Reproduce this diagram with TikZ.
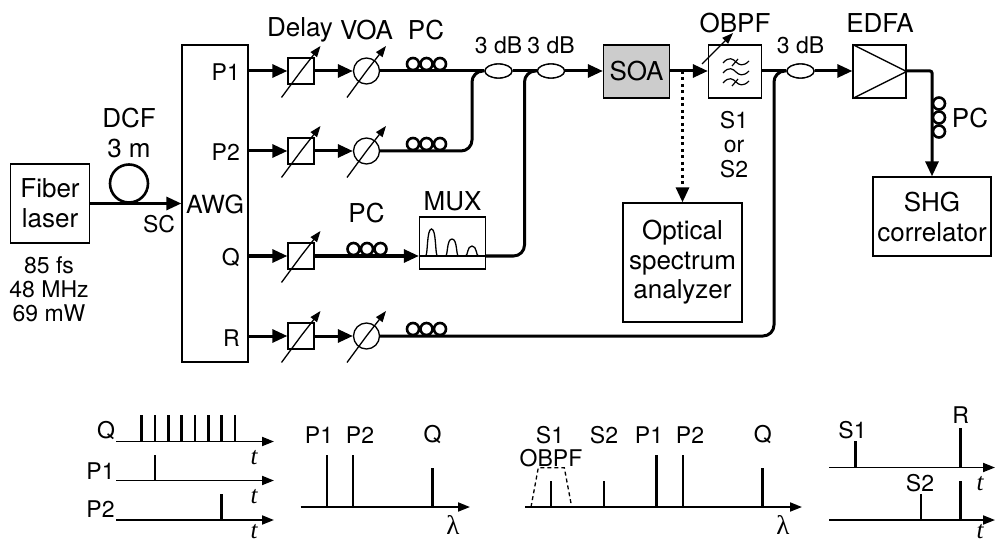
\documentclass[tikz,border=0pt]{standalone}
\usepackage{fontspec}
\setmainfont{TeX Gyre Heros}
\newfontfamily\serifgreek{Liberation Serif}
\usetikzlibrary{arrows.meta,shapes.geometric}
\tikzset{
  fiber/.style={line width=3pt},
  bigtip/.style={-{Triangle[length=15pt,width=13pt]}},
  fiberarrow/.style={fiber,bigtip},
  smalltip/.style={-{Triangle[length=11pt,width=8pt]}},
  thinline/.style={line width=1.3pt},
  tunable/.style={thinline,smalltip},
  boxnode/.style={draw,line width=1.3pt,inner sep=0pt,align=center},
  delaybox/.style={boxnode,minimum width=26pt,minimum height=26pt},
  voa/.style={draw,circle,line width=1.3pt,inner sep=0pt,minimum size=26pt},
  coupler/.style={draw,ellipse,line width=1.3pt,fill=white,inner sep=0pt,minimum width=27pt,minimum height=14pt},
  coil/.style={draw,circle,line width=2.6pt,inner sep=0pt,minimum size=12pt},
  lab/.style={inner sep=0pt,font=\fontsize{26}{26}\selectfont,align=center},
  mid/.style={inner sep=0pt,font=\fontsize{23}{23}\selectfont,align=center},
  axis/.style={line width=1.8pt,-{Triangle[length=12pt,width=9pt]}},
  pulse/.style={line width=2.9pt},
  tlab/.style={inner sep=0pt,font=\serifgreek\itshape\fontsize{25}{25}\selectfont},
  llab/.style={inner sep=0pt,font=\serifgreek\fontsize{27}{27}\selectfont},
}
\begin{document}
\begin{tikzpicture}[x=1pt,y=-1pt]
\useasboundingbox (0,0) rectangle (995,545);
% boxes
\node[boxnode,minimum width=79.5pt,minimum height=79pt,font=\fontsize{26}{30}\selectfont] (laser) at (50,203.5) {Fiber\\laser};
\node[boxnode,minimum width=66pt,minimum height=317pt] (awg) at (215,203.5) {};
\node[draw,circle,line width=2.6pt,inner sep=0pt,minimum size=38pt] (dcf) at (129,183.5) {};
\coordinate (awgin) at (awg.west|-laser);
\draw[fiberarrow] (laser.east) -- (awgin);
\node[lab] (dcfl) at (129,118) {DCF};
\node[lab] (dcfm) at (129,148) {3 m};
\node[mid] (sc) at (159,224) {SC};
\node[lab,font=\fontsize{25}{25}\selectfont] (awgl) at (215,204) {AWG};
\node[mid,font=\fontsize{23}{24}\selectfont] (specs) at (49,289.5) {85 fs\\48 MHz\\69 mW};
\node[mid,anchor=east] (lp1) at (240,72) {P1};
\node[mid,anchor=east] (lp2) at (240,152) {P2};
\node[mid,anchor=east] (lq) at (240,258) {Q};
\node[mid,anchor=east] (lr) at (240,338) {R};
\node[lab] (ldelay) at (300,30) {Delay};
\node[lab] (lvoa) at (366.5,30) {VOA};
\node[lab] (lpc1) at (426,30) {PC};
\node[lab] (lpc2) at (366.5,213) {PC};
\node[lab] (lmux) at (452.5,201) {MUX};
\node[mid] (ldb1) at (498.5,45) {3 dB};
\node[mid] (ldb2) at (551,45) {3 dB};
\node[mid] (ldb3) at (800.5,45) {3 dB};
\node[lab] (lobpf) at (735,23) {OBPF};
\node[lab] (ledfa) at (880,23) {EDFA};
\node[mid,font=\fontsize{23}{24.5}\selectfont] (ls) at (734,144.5) {S1\\or\\S2};
\node[lab] (lpc3) at (970,118) {PC};
% outputs of AWG
\coordinate (op1) at (248,71);
\coordinate (op2) at (248,151);
\coordinate (oq) at (248,256);
\coordinate (or) at (248,336);
% delay and VOA
\node[delaybox] (d1) at (301,71) {};
\node[delaybox] (d2) at (301,151) {};
\node[delaybox] (d3) at (301,256) {};
\node[delaybox] (d4) at (301,336) {};
\node[voa] (v1) at (366.5,71) {};
\node[voa] (v2) at (366.5,151) {};
\node[voa] (v4) at (366.5,336) {};
\foreach \s/\x/\y in {d1/301/71,d2/301/151,d3/301/256,d4/301/336,v1/366.5/71,v2/366.5/151,v4/366.5/336}{
  \draw[tunable] (\x-19.5,\y+26.5) -- (\s.center) -- (\x+19.5,\y-25);
}
\draw[fiberarrow] (op1) -- (d1.west);
\draw[fiberarrow] (op2) -- (d2.west);
\draw[fiberarrow] (oq) -- (d3.west);
\draw[fiberarrow] (or) -- (d4.west);
\draw[fiberarrow] (d1.east) -- (v1.west);
\draw[fiberarrow] (d2.east) -- (v2.west);
\draw[fiberarrow] (d4.east) -- (v4.west);
% couplers etc
\node[coupler] (c1) at (498.5,71) {};
\node[coupler] (c2) at (551,71) {};
\node[coupler] (c3) at (800.5,71) {};
\node[boxnode,minimum width=66pt,minimum height=52pt] (mux) at (452.5,243) {};
\node[boxnode,fill=black!20,minimum width=66pt,minimum height=53pt,font=\fontsize{26}{26}\selectfont] (soa) at (636.5,71.5) {SOA};
\node[boxnode,minimum width=53pt,minimum height=53pt] (obpf) at (735,71.5) {};
\node[boxnode,minimum width=53pt,minimum height=53pt] (edfa) at (879.5,71.5) {};
\node[boxnode,minimum width=118pt,minimum height=79pt,font=\fontsize{26}{30}\selectfont] (shg) at (932,216.5) {SHG\\correlator};
\node[boxnode,minimum width=119pt,minimum height=119pt,font=\fontsize{26}{29.5}\selectfont] (osa) at (682.5,262.5) {Optical\\spectrum\\analyzer};
% fibers
\draw[fiber] (v1.east) -- (c1.west);
\draw[fiber,rounded corners=11pt] (v2.east) -- (472,151) -- (472,71) -- (c1.west);
\draw[fiberarrow] (d3.east) -- (mux.west|-d3);
\draw[thinline] (mux.west|-d3) -- (mux.east|-d3);
\draw[fiber,rounded corners=11pt] (mux.east|-d3) -- (524.5,256) -- (524.5,71) -- (c2.west);
\draw[fiber] (c1.east) -- (c2.west);
\draw[fiberarrow] (c2.east) -- (soa.west|-c2);
\draw[fiberarrow] (soa.east|-c2) -- (obpf.west|-c2);
\draw[fiber] (obpf.east|-c2) -- (c3.west);
\draw[fiber,rounded corners=11pt] (v4.east) -- (774,336) -- (774,71) -- (c3.west);
\draw[fiberarrow] (c3.east) -- (edfa.west|-c3);
\draw[fiberarrow,rounded corners=2pt] (edfa.east|-c3) -- (shg.north|-c3) -- (shg.north);
\coordinate (dotstart) at (682.5,71);
\coordinate (dotend) at (682.5,188);
\draw[line width=3pt,dash pattern=on 3pt off 3.5pt] (dotstart) -- (dotend);
\draw[bigtip,line width=3pt] (dotend) -- (osa.north);
% couplers on top of lines
\node[coupler] at (c1) {};
\node[coupler] at (c2) {};
\node[coupler] at (c3) {};
% polarization controllers
\foreach \cx/\cy in {413/64,426.5/64,440/64,413/144,426.5/144,440/144,353.5/249,367/249,380.5/249,413/329,426.5/329,440/329,939/103.5,939/117.5,939/131.5}{
  \node[coil] at (\cx,\cy) {};
}
% EDFA triangle
\draw[thinline,line join=miter] (edfa.north west) -- (edfa.east) -- (edfa.south west);
% MUX humps
\draw[thinline] (425.5,256) .. controls (428,256) and (426.5,229) .. (431.5,229) .. controls (436.5,229) and (435,256) .. (437.5,256);
\draw[thinline] (445.5,256) .. controls (448,256) and (446.5,239) .. (452,239) .. controls (457.5,239) and (456,256) .. (458.5,256);
\draw[thinline] (465.5,256) .. controls (468,256) and (467,246) .. (472,246) .. controls (477,246) and (476,256) .. (478.5,256);
% OBPF symbol
\foreach \yy in {62,72,82}{
  \draw[line width=1.2pt] (723,\yy+1) .. controls (729,\yy-6) and (733,\yy-3) .. (736,\yy) .. controls (739,\yy+3) and (743,\yy+5) .. (749,\yy-1);
}
\draw[line width=1.2pt] (732,66) -- (738,59);
\draw[line width=1.2pt] (732,86) -- (738,79);
\coordinate (obpfa) at (702,64);
\coordinate (obpfb) at (733,33);
\draw[tunable] (obpfa) -- (obpfb);
% --- time traces, left
\coordinate (qa) at (116,441.5); \coordinate (qb) at (274,441.5);
\coordinate (p1a) at (116,480.5); \coordinate (p1b) at (274,480.5);
\coordinate (p2a) at (116,520); \coordinate (p2b) at (274,520);
\draw[axis] (qa) -- (qb);
\draw[axis] (p1a) -- (p1b);
\draw[axis] (p2a) -- (p2b);
\foreach \x in {141.7,155,168.3,181.7,195,208.3,221.7,235}{
  \draw[pulse] (\x,441.5) -- (\x,415);
}
\draw[pulse] (155,480.5) -- (155,455);
\draw[pulse] (221.5,520) -- (221.5,494);
\node[mid] (tq) at (106,431) {Q};
\node[mid] (tp1) at (100.5,471) {P1};
\node[mid] (tp2) at (100.5,509) {P2};
\node[tlab] (t1) at (254,458) {t};
\node[tlab] (t2) at (254,497) {t};
\node[tlab] (t3) at (254,532) {t};
% --- spectrum 1
\coordinate (la) at (300.5,507); \coordinate (lb) at (470,507);
\draw[axis] (la) -- (lb);
\draw[pulse] (327,507) -- (327,455);
\draw[pulse] (353,507) -- (353,455);
\draw[pulse] (432.5,507) -- (432.5,468);
\node[mid] (s1p1) at (319,435) {P1};
\node[mid] (s1p2) at (360,435) {P2};
\node[mid] (s1q) at (432.5,435) {Q};
\node[llab] (lam1) at (453,525) {λ};
% --- spectrum 2
\coordinate (ma) at (525,507); \coordinate (mb) at (802,507);
\draw[axis] (ma) -- (mb);
\draw[pulse] (551,507) -- (551,481);
\draw[pulse] (604,507) -- (604,481);
\draw[pulse] (656.7,507) -- (656.7,455);
\draw[pulse] (683,507) -- (683,455);
\draw[pulse] (762.7,507) -- (762.7,468);
\draw[line width=1.3pt,dash pattern=on 4pt off 3pt] (531,507) -- (538.3,467.7) -- (564.3,467.7) -- (571.7,507);
\node[mid] (s2s1) at (550,435) {S1};
\node[mid] (s2s2) at (604,435) {S2};
\node[mid] (s2p1) at (649,435) {P1};
\node[mid] (s2p2) at (690,435) {P2};
\node[mid] (s2q) at (762.7,435) {Q};
\node[mid] (s2f) at (551,458) {OBPF};
\node[llab] (lam2) at (783,525) {λ};
% --- time traces, right
\coordinate (ra) at (829,467.5); \coordinate (rb) at (995,467.5);
\coordinate (sa) at (829,520); \coordinate (sb) at (995,520);
\draw[axis] (ra) -- (rb);
\draw[axis] (sa) -- (sb);
\draw[pulse] (855.7,467.5) -- (855.7,441);
\draw[pulse] (960.7,467.5) -- (960.7,428);
\draw[pulse] (921,520) -- (921,494);
\draw[pulse] (960.7,520) -- (960.7,481);
\node[mid] (r1) at (852.5,430) {S1};
\node[mid] (r2) at (960.7,415) {R};
\node[mid] (r3) at (920,483) {S2};
\node[tlab] (t4) at (980,484) {t};
\node[tlab] (t5) at (980,532) {t};
\end{tikzpicture}
\end{document}
